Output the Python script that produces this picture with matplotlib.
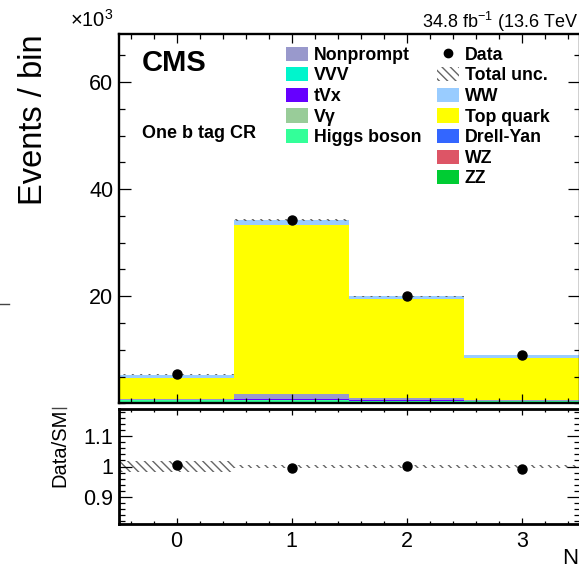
import matplotlib
matplotlib.use("Agg")
import matplotlib.pyplot as plt
from matplotlib.patches import Patch
from matplotlib.lines import Line2D
from matplotlib.ticker import MultipleLocator
import numpy as np

plt.rcParams['font.family'] = ['Liberation Sans', 'DejaVu Sans']
plt.rcParams['mathtext.fontset'] = 'custom'
plt.rcParams['mathtext.rm'] = 'Liberation Sans'
plt.rcParams['mathtext.it'] = 'Liberation Sans:italic'
plt.rcParams['mathtext.bf'] = 'Liberation Sans:bold'
plt.rcParams['hatch.linewidth'] = 1.0

# bins (number of b jets), values in units of 10^3 events
bins = [0, 1, 2, 3]
data = [5.39, 34.17, 20.04, 8.94]
unc = [0.105, 0.2, 0.12, 0.055]

# stack from bottom to top
zz = [0.12, 0.12, 0.08, 0.06]
wz = [0.04, 0.05, 0.04, 0.03]
dy = [0.05, 0.05, 0.04, 0.03]
higgs = [0.35, 0.40, 0.30, 0.25]
vgamma = [0.03, 0.04, 0.03, 0.02]
tvx = [0.02, 0.10, 0.08, 0.05]
vvv = [0.01, 0.01, 0.01, 0.01]
nonprompt = [0.10, 0.95, 0.45, 0.10]
top = [4.10, 31.63, 18.37, 8.00]
ww = [0.55, 0.95, 0.60, 0.45]

stack = [
    ("ZZ", zz, "#00cc33"),
    ("WZ", wz, "#dd5566"),
    ("Drell-Yan", dy, "#3366ff"),
    ("Higgs boson", higgs, "#33ff99"),
    ("V\u03b3", vgamma, "#99cc99"),
    ("tVx", tvx, "#6600ff"),
    ("VVV", vvv, "#00f5cc"),
    ("Nonprompt", nonprompt, "#9999cc"),
    ("Top quark", top, "#ffff00"),
    ("WW", ww, "#99ccff"),
]
colors = {name: c for name, vals, c in stack}

W, H = 579, 571
def fx(x):
    return x / W
def fy(y):
    return 1 - y / H

HATCH = '\\\\\\\\'

fig = plt.figure(figsize=(W / 100, H / 100), dpi=100)
ax = fig.add_axes([fx(119), fy(403.3), (579.5 - 119) / W, (403.3 - 34) / H])
rax = fig.add_axes([fx(119), fy(524), (579.5 - 119) / W, (524 - 409) / H])

x = np.array(bins)
bottom = np.zeros(len(bins))
for name, vals, c in stack:
    ax.bar(x, vals, width=1.0, bottom=bottom, color=c, linewidth=0)
    bottom = bottom + np.array(vals)
total = bottom
unc = np.array(unc)
data = np.array(data)

ax.bar(x, 2 * unc, width=1.0, bottom=total - unc, facecolor='none',
       edgecolor='#666666', hatch=HATCH, linewidth=0)
ax.plot(x, data, 'o', color='k', ms=6.5, zorder=5)

ax.set_xlim(-0.5, 3.5)
ax.set_ylim(0, 69)
ax.yaxis.set_major_locator(MultipleLocator(20))
ax.yaxis.set_minor_locator(MultipleLocator(5))
ax.xaxis.set_major_locator(MultipleLocator(1))
ax.xaxis.set_minor_locator(MultipleLocator(0.2))
ax.set_yticks([20, 40, 60])
ax.tick_params(which='both', direction='in', top=True, right=True,
               labelbottom=False, labelsize=15.5, width=0.9)
ax.tick_params(axis='y', which='major', length=8.5, pad=4)
ax.tick_params(axis='y', which='minor', length=4.3)
ax.tick_params(axis='x', which='major', length=6.5)
ax.tick_params(axis='x', which='minor', length=3.3)
for s in ax.spines.values():
    s.set_linewidth(1.7)
ax.set_ylabel("Events / bin", fontsize=23.5, loc='top')
ax.yaxis.set_label_coords(-0.152, 1.0)

# ratio panel
rel = unc / total
rax.bar(x, 2 * rel, width=1.0, bottom=1 - rel, facecolor='none',
        edgecolor='#666666', hatch=HATCH, linewidth=0)
rax.plot(x, data / total, 'o', color='k', ms=6.5, zorder=5)
rax.set_xlim(-0.5, 3.5)
rax.set_ylim(0.81, 1.19)
rax.set_yticks([0.9, 1.0, 1.1])
rax.set_yticklabels(["0.9", "1", "1.1"])
rax.yaxis.set_minor_locator(MultipleLocator(0.02))
rax.set_xticks(bins)
rax.xaxis.set_minor_locator(MultipleLocator(0.2))
rax.tick_params(which='both', direction='in', top=True, right=True,
                labelsize=15.5, width=0.9)
rax.tick_params(axis='y', which='major', length=9.5, pad=4)
rax.tick_params(axis='y', which='minor', length=4.3)
rax.tick_params(axis='x', which='major', length=4.3, pad=5)
rax.tick_params(axis='x', which='minor', length=2.2)
for s in rax.spines.values():
    s.set_linewidth(2.0)
rax.set_ylabel("Data/SM", fontsize=14.5, loc='top')
rax.yaxis.set_label_coords(-0.108, 1.0)

# legends
prop = {'weight': 'bold', 'size': 12.8}
leg_kw = dict(loc='upper left', bbox_transform=fig.transFigure, frameon=False,
              borderpad=0, borderaxespad=0, handlelength=1.25, handleheight=0.85,
              handletextpad=0.3, labelspacing=0.19, prop=prop)
names1 = ["Nonprompt", "VVV", "tVx", "V\u03b3", "Higgs boson"]
h1 = [Patch(facecolor=colors[n], linewidth=0) for n in names1]
leg1 = ax.legend(h1, names1, bbox_to_anchor=(fx(286), fy(46.5)), **leg_kw)
ax.add_artist(leg1)

names2 = ["WW", "Top quark", "Drell-Yan", "WZ", "ZZ"]
h2 = [Line2D([], [], marker='o', color='k', ls='none', ms=6),
      Patch(facecolor='none', edgecolor='#666666', hatch=HATCH, linewidth=0)]
h2 += [Patch(facecolor=colors[n], linewidth=0) for n in names2]
leg2 = ax.legend(h2, ["Data", "Total unc."] + names2,
                 bbox_to_anchor=(fx(437), fy(46.5)), **leg_kw)

# labels
fig.text(fx(142), fy(63), "CMS", fontsize=21, fontweight='bold', va='center')
fig.text(fx(142), fy(133), "One b tag CR", fontsize=13, fontweight='bold', va='center')
fig.text(fx(70), fy(20), "$\\times$10$^{3}$", fontsize=14.5, va='center')
fig.text(fx(578), fy(22), "34.8 fb$^{-1}$ (13.6 TeV", fontsize=13, va='center', ha='right')
fig.text(fx(578), fy(559), "N", fontsize=16, va='center', ha='right')

# stray marks at the left edge of the crop
fig.add_artist(Line2D([fx(0), fx(9)], [fy(304), fy(304)], color='#444444', lw=1))
fig.add_artist(Line2D([fx(52), fx(66)], [fy(408), fy(408)], color='#444444', lw=1))

fig.savefig("out.png", dpi=100)
